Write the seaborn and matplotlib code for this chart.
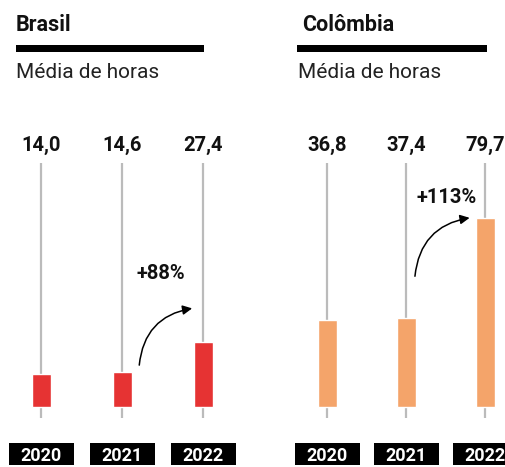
import matplotlib
matplotlib.use("Agg")
import matplotlib.pyplot as plt
import seaborn as sns
from matplotlib.patches import Rectangle
from pandas import DataFrame

years = ["2020", "2021", "2022"]
brasil_hours = [14.0, 14.6, 27.4]
colombia_hours = [36.8, 37.4, 79.7]
countries = ["Brasil", "Colômbia"]
subtitle = "Média de horas"
colors = ["#E63333", "#F4A46A"]

W, H = 505, 467
PX = 2.37  # pixels per hour
BASE = 60  # baseline, px from bottom
YMIN, YMAX = -5, 105

sns.set_theme(style="white")
plt.rcParams["font.family"] = ["Roboto", "DejaVu Sans"]

fig = plt.figure(figsize=(W / 100, H / 100), dpi=100)


def fx(px):
    return px / W


def fy(px_top):
    return 1 - px_top / H


def panel(first_x, step, values, color, name, title_x, rule, sub_x, arrow):
    left = first_x - step / 2
    bottom = BASE + YMIN * PX
    ax = fig.add_axes([fx(left), bottom / H, 3 * step / W, (YMAX - YMIN) * PX / H])
    df = DataFrame({"year": years, "hours": values})
    sns.barplot(data=df, x="year", y="hours", color=color, width=19 / step,
                saturation=1, ax=ax, zorder=3)
    ax.vlines(range(len(years)), -4.6, 103, color="#BBBBBB", lw=1.6, zorder=1)
    ax.set_xlim(-0.5, 2.5)
    ax.set_ylim(YMIN, YMAX)
    ax.axis("off")

    for i, v in enumerate(values):
        ax.text(i, 110.5, f"{v:.1f}".replace(".", ","), ha="center", va="center",
                fontsize=14.5, fontweight="semibold", color="#111111", clip_on=False)
        ax.add_patch(Rectangle((i - 32.5 / step, -24.5), 65 / step, 22 / PX,
                               facecolor="black", edgecolor="none", clip_on=False))
        ax.text(i, -20.6, years[i], ha="center", va="center", fontsize=13,
                fontweight="semibold", color="white", clip_on=False)

    pct = round((values[2] / values[1] - 1) * 100)
    (sx, sy), (ex, ey), (tx, ty) = arrow
    ax.annotate("", xy=(ex, ey), xytext=(sx, sy),
                arrowprops=dict(arrowstyle="-|>", color="black", lw=1.1,
                                mutation_scale=14,
                                connectionstyle="arc3,rad=-0.4"))
    ax.text(tx, ty, f"+{pct}%", ha="center", va="center", fontsize=14.5,
            fontweight="bold", color="#111111")

    fig.text(fx(title_x), fy(31), name, fontsize=15.5, fontweight="bold",
             color="#111111", va="baseline")
    fig.add_artist(Rectangle((fx(rule[0]), fy(51.5)), fx(rule[1] - rule[0]), 6.5 / H,
                             facecolor="black", edgecolor="none",
                             transform=fig.transFigure))
    fig.text(fx(sub_x), fy(78), subtitle, fontsize=15, fontweight="normal",
             color="#222222", va="baseline")


panel(41, 81, brasil_hours, colors[0], countries[0], 16, (16, 204), 16,
      ((1.21, 16.5), (1.9, 41.8), (1.48, 56.5)))
panel(327, 79, colombia_hours, colors[1], countries[1], 302, (297, 487), 298,
      ((1.11, 54), (1.84, 80), (1.51, 88.6)))

fig.savefig("out.png", dpi=100)
